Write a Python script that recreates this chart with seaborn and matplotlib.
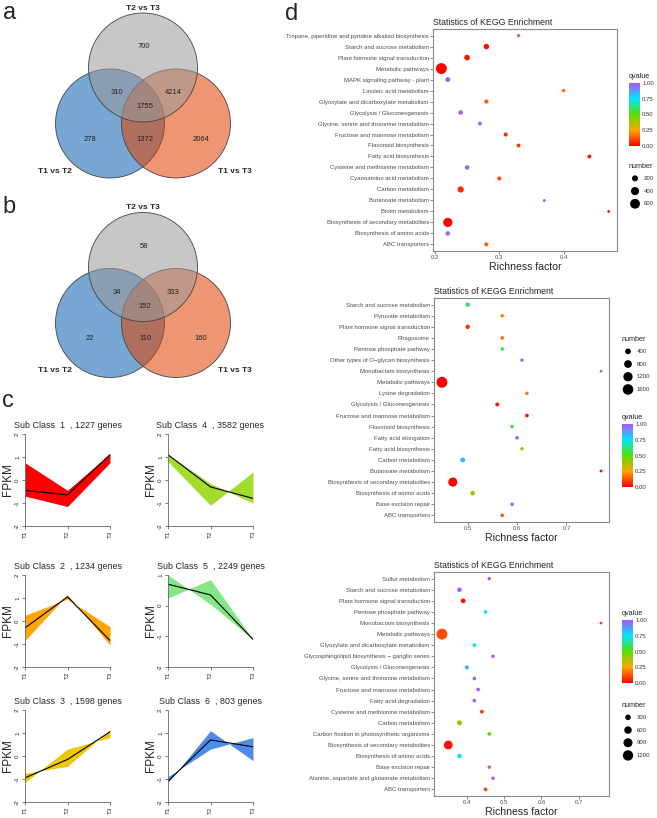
import numpy as np
import pandas as pd
import matplotlib
matplotlib.use('Agg')
import matplotlib.pyplot as plt
import seaborn as sns
from matplotlib.patches import Circle
from matplotlib.colors import LinearSegmentedColormap, Normalize, to_rgba
from matplotlib.cm import ScalarMappable
from matplotlib.ticker import MultipleLocator, FormatStrFormatter

# --- data: venn ---
venn_sets = ['T1 vs T2', 'T1 vs T3', 'T2 vs T3']
# order: only T2vsT3, T2vsT3&T1vsT2, T2vsT3&T1vsT3, all, only T1vsT2, T1vsT2&T1vsT3, only T1vsT3
venn_a_counts = [700, 310, 4214, 1755, 278, 1372, 2064]
venn_b_counts = [58, 34, 333, 152, 22, 110, 160]

# --- data: expression clusters ---
stages = ['T1', 'T2', 'T3']
sub_ids = [1, 2, 3, 4, 5, 6]
sub_genes = [1227, 1234, 1598, 3582, 2249, 803]
sub_mean = [[-0.45, -0.65, 1.1], [-0.3, 1.05, -0.85], [-0.95, -0.15, 1.05],
            [1.1, -0.3, -0.8], [0.7, 0.35, -1.1], [-1.1, 0.7, 0.4]]
sub_env_a = [[0.75, -0.45, 1.15], [0.25, 0.95, -0.25], [-1.15, 0.3, 0.8],
             [1.1, -0.15, -1.0], [1.0, 0.05, -1.1], [-1.15, 1.1, -0.2]]
sub_env_b = [[-0.7, -1.15, 0.75], [-0.85, 1.15, -1.05], [-0.75, -0.45, 1.15],
             [0.8, -1.1, 0.35], [0.25, 0.85, -1.1], [-0.9, 0.3, 0.8]]
sub_ylim = [(-2, 2), (-2, 2), (-2, 2), (-2, 2), (-2, 1), (-2, 2)]
sub_colors = ['#FF0000', '#FFA500', '#EEC900', '#A4DC2C', '#84E685', '#4F8BEA']

# --- data: KEGG enrichment ---
terms1 = ['Tropane, piperidine and pyridine alkaloid biosynthesis', 'Starch and sucrose metabolism',
          'Plant hormone signal transduction', 'Metabolic pathways', 'MAPK signaling pathway - plant',
          'Linoleic acid metabolism', 'Glyoxylate and dicarboxylate metabolism',
          'Glycolysis / Gluconeogenesis', 'Glycine, serine and threonine metabolism',
          'Fructose and mannose metabolism', 'Flavonoid biosynthesis', 'Fatty acid biosynthesis',
          'Cysteine and methionine metabolism', 'Cyanoamino acid metabolism', 'Carbon metabolism',
          'Butanoate metabolism', 'Biotin metabolism', 'Biosynthesis of secondary metabolites',
          'Biosynthesis of amino acids', 'ABC transporters']
rich1 = [0.33, 0.28, 0.25, 0.21, 0.22, 0.40, 0.28, 0.24, 0.27, 0.31,
         0.33, 0.44, 0.25, 0.30, 0.24, 0.37, 0.47, 0.22, 0.22, 0.28]
q1 = [1.0, 0.02, 0.03, 0.0, 0.98, 0.15, 0.15, 0.98, 1.0, 0.08,
      0.08, 0.02, 0.97, 0.12, 0.06, 1.0, 0.02, 0.01, 0.97, 0.15]
n1 = [30, 160, 180, 750, 120, 40, 80, 100, 60, 80,
      60, 60, 100, 80, 220, 15, 15, 520, 100, 70]
size_breaks1 = [200, 400, 600]

terms2 = ['Starch and sucrose metabolism', 'Pyruvate metabolism', 'Plant hormone signal transduction',
          'Phagosome', 'Pentose phosphate pathway', 'Other types of O\u2212glycan biosynthesis',
          'Monobactam biosynthesis', 'Metabolic pathways', 'Lysine degradation',
          'Glycolysis / Gluconeogenesis', 'Fructose and mannose metabolism', 'Flavonoid biosynthesis',
          'Fatty acid elongation', 'Fatty acid biosynthesis', 'Carbon metabolism', 'Butanoate metabolism',
          'Biosynthesis of secondary metabolites', 'Biosynthesis of amino acids', 'Base excision repair',
          'ABC transporters']
rich2 = [0.50, 0.57, 0.50, 0.57, 0.57, 0.61, 0.77, 0.448, 0.62, 0.56,
         0.62, 0.59, 0.60, 0.61, 0.49, 0.77, 0.47, 0.51, 0.59, 0.57]
q2 = [0.62, 0.2, 0.08, 0.15, 0.58, 1.0, 1.0, 0.0, 0.18, 0.04,
      0.02, 0.56, 0.98, 0.42, 0.85, 0.02, 0.01, 0.42, 0.98, 0.12]
n2 = [200, 90, 200, 90, 90, 70, 20, 1700, 90, 150,
      100, 100, 90, 90, 250, 20, 1150, 220, 90, 90]
size_breaks2 = [400, 800, 1200, 1600]

terms3 = ['Sulfur metabolism', 'Starch and sucrose metabolism', 'Plant hormone signal transduction',
          'Pentose phosphate pathway', 'Monobactam biosynthesis', 'Metabolic pathways',
          'Glyoxylate and dicarboxylate metabolism', 'Glycosphingolipid biosynthesis \u2212 ganglio series',
          'Glycolysis / Gluconeogenesis', 'Glycine, serine and threonine metabolism',
          'Fructose and mannose metabolism', 'Fatty acid degradation', 'Cysteine and methionine metabolism',
          'Carbon metabolism', 'Carbon fixation in photosynthetic organisms',
          'Biosynthesis of secondary metabolites', 'Biosynthesis of amino acids', 'Base excision repair',
          'Alanine, aspartate and glutamate metabolism', 'ABC transporters']
rich3 = [0.46, 0.38, 0.39, 0.45, 0.76, 0.333, 0.42, 0.47, 0.40, 0.42,
         0.43, 0.42, 0.44, 0.38, 0.46, 0.35, 0.38, 0.46, 0.47, 0.45]
q3 = [1.0, 0.97, 0.02, 0.75, 0.1, 0.12, 0.75, 1.0, 0.85, 0.98,
      0.98, 0.98, 0.08, 0.42, 0.5, 0.02, 0.72, 1.0, 1.0, 0.1]
n3 = [70, 170, 190, 80, 20, 1350, 100, 70, 130, 90,
      90, 90, 100, 220, 90, 850, 170, 70, 70, 90]
size_breaks3 = [300, 600, 900, 1200]

q_breaks = [0.0, 0.25, 0.5, 0.75, 1.0]

# --- style ---
sns.set_style('white')
plt.rcParams['font.family'] = ['Liberation Sans', 'DejaVu Sans']

W, H = 657, 818
fig = plt.figure(figsize=(W / 100, H / 100), dpi=100)


def px_axes(l, t, r, b):
    """axes from pixel box (left, top, right, bottom)"""
    return fig.add_axes([l / W, 1 - b / H, (r - l) / W, (b - t) / H])


# background axes in pixel coords for venn + panel letters
bg = fig.add_axes([0, 0, 1, 1])
bg.set_xlim(0, W)
bg.set_ylim(H, 0)
bg.axis('off')

for letter, (lx, ly) in zip('abcd', [(3, 19), (2, 213), (2, 407), (285, 20)]):
    bg.text(lx, ly, letter, fontsize=17, va='baseline', ha='left')

# offsets of region labels relative to the T2 vs T3 circle centre
region_offsets = [(1, -21), (-26, 25), (30, 25), (2, 39), (-53, 72), (2, 72), (58, 72)]


def draw_venn(cx, cy, counts):
    r = 54.5
    centres = {'T1 vs T2': (cx - 33, cy + 56), 'T1 vs T3': (cx + 33, cy + 56), 'T2 vs T3': (cx, cy)}
    fills = {'T1 vs T2': '#0A5FB0', 'T1 vs T3': '#E04000', 'T2 vs T3': '#9A9A9A'}
    for name in venn_sets:
        bg.add_patch(Circle(centres[name], r, facecolor=to_rgba(fills[name], 0.55),
                            edgecolor='#444444', lw=0.6))
    for c, (dx, dy) in zip(counts, region_offsets):
        bg.text(cx + dx, cy + dy, str(c), fontsize=5.5, ha='center', va='center', color='#222222')
    bg.text(cx, cy - r - 1.5, 'T2 vs T3', fontsize=6, weight='bold', ha='center', va='bottom')
    bg.text(cx - 88, cy + 104, 'T1 vs T2', fontsize=6, weight='bold', ha='center', va='center')
    bg.text(cx + 92, cy + 104, 'T1 vs T3', fontsize=6, weight='bold', ha='center', va='center')


draw_venn(143, 67.5, venn_a_counts)
draw_venn(143, 267, venn_b_counts)

# --- panel c ---
col_x = [(25, 110), (168, 253)]
row_top = [434, 575, 710]
xs = np.arange(len(stages))
for i, sid in enumerate(sub_ids):
    l, r = col_x[i // 3]
    t = row_top[i % 3]
    ax = px_axes(l, t, r, t + 92)
    ax.fill_between(xs, sub_env_a[i], sub_env_b[i], color=sub_colors[i], lw=0)
    sns.lineplot(x=xs, y=sub_mean[i], color='black', lw=0.8, ax=ax)
    lo, hi = sub_ylim[i]
    ax.set_xlim(0, 2)
    ax.set_ylim(lo, hi)
    ax.set_xticks(xs)
    ax.set_xticklabels(stages, rotation=90)
    ax.set_yticks(np.arange(lo, hi + 1))
    ax.set_yticklabels([str(v) for v in np.arange(lo, hi + 1)], rotation=90, va='center')
    ax.tick_params(labelsize=4.5, length=2.5, width=0.5, pad=1, color='#444444', bottom=True, left=True)
    for s in ['top', 'right']:
        ax.spines[s].set_visible(False)
    for s in ['left', 'bottom']:
        ax.spines[s].set_color('#666666')
        ax.spines[s].set_linewidth(0.6)
    ax.set_ylabel('FPKM', fontsize=8.5, labelpad=1)
    ax.set_xlabel('')
    ax.set_title(f'Sub Class  {sid}  , {sub_genes[i]} genes', fontsize=6.4, pad=4)

# --- panel d ---
kegg_cmap = LinearSegmentedColormap.from_list(
    'kegg', ['#FF0000', '#FFA500', '#55E000', '#00E5FF', '#AA55FF'])

kegg_sets = [(terms1, rich1, q1, n1, size_breaks1), (terms2, rich2, q2, n2, size_breaks2),
             (terms3, rich3, q3, n3, size_breaks3)]
panel_box = [(433, 29, 617, 251), (434, 298, 609, 522), (434, 572, 609, 796)]
# legend layout: (legend x, qbar top, size legend top)
legend_box = [(629, 83, 172), (622, 424, 345), (622, 620, 711)]
smin, smax = 4, 62


def add_qbar(x, top):
    cax = px_axes(x, top, x + 11, top + 63)
    cb = fig.colorbar(ScalarMappable(norm=Normalize(0, 1), cmap=kegg_cmap), cax=cax)
    cb.set_ticks(q_breaks)
    cb.set_ticklabels([f'{v:.2f}' for v in q_breaks])
    cb.outline.set_visible(False)
    cax.tick_params(labelsize=4.3, length=2, width=0.5, color='white', direction='in',
                    pad=1.5, labelcolor='#333333')
    fig.text(x / W, 1 - (top - 3) / H, 'qvalue', fontsize=5.2, va='bottom', ha='left')


def add_sizes(x, top, breaks, nvals):
    k = len(breaks)
    sax = px_axes(x, top, x + 30, top + 12.7 * k)
    sax.axis('off')
    sax.set_xlim(0, 1)
    sax.set_ylim(k - 0.5, -0.5)
    vmin, vmax = min(nvals), max(nvals)
    s = [smin + (b - vmin) / (vmax - vmin) * (smax - smin) for b in breaks]
    sax.scatter(np.full(k, 0.2), np.arange(k), s=s, color='black', lw=0, clip_on=False)
    for j, b in enumerate(breaks):
        sax.text(0.5, j, str(b), fontsize=4.3, va='center', ha='left', color='#333333')
    fig.text(x / W, 1 - (top - 2) / H, 'number', fontsize=5.2, va='bottom', ha='left')


for (terms, rich, q, n, breaks), (l, t, r, b), (lx, qtop, stop) in zip(kegg_sets, panel_box, legend_box):
    ax = px_axes(l, t, r, b)
    df = pd.DataFrame({'term': terms, 'rich': rich, 'q': q, 'n': n})
    sns.scatterplot(data=df, x='rich', y='term', hue='q', palette=kegg_cmap, hue_norm=(0, 1),
                    size='n', sizes=(smin, smax), size_norm=(min(n), max(n)),
                    linewidth=0, legend=False, ax=ax)
    span = max(rich) - min(rich)
    ax.set_xlim(min(rich) - 0.05 * span, max(rich) + 0.05 * span)
    ax.set_ylim(len(terms) - 0.4, -0.6)
    ax.xaxis.set_major_locator(MultipleLocator(0.1))
    ax.xaxis.set_major_formatter(FormatStrFormatter('%.1f'))
    ax.set_title('Statistics of KEGG Enrichment', loc='left', fontsize=6.3, pad=3)
    ax.set_xlabel('Richness factor', fontsize=7.6, labelpad=1)
    ax.set_ylabel('')
    ax.tick_params(axis='both', labelsize=4.3, length=2, width=0.5, pad=1,
                   color='#555555', labelcolor='#4D4D4D', bottom=True, left=True)
    for s in ax.spines.values():
        s.set_color('#8A8A8A')
        s.set_linewidth(0.8)
    add_qbar(lx, qtop)
    add_sizes(lx, stop, breaks, n)

fig.savefig('out.png', dpi=100)
